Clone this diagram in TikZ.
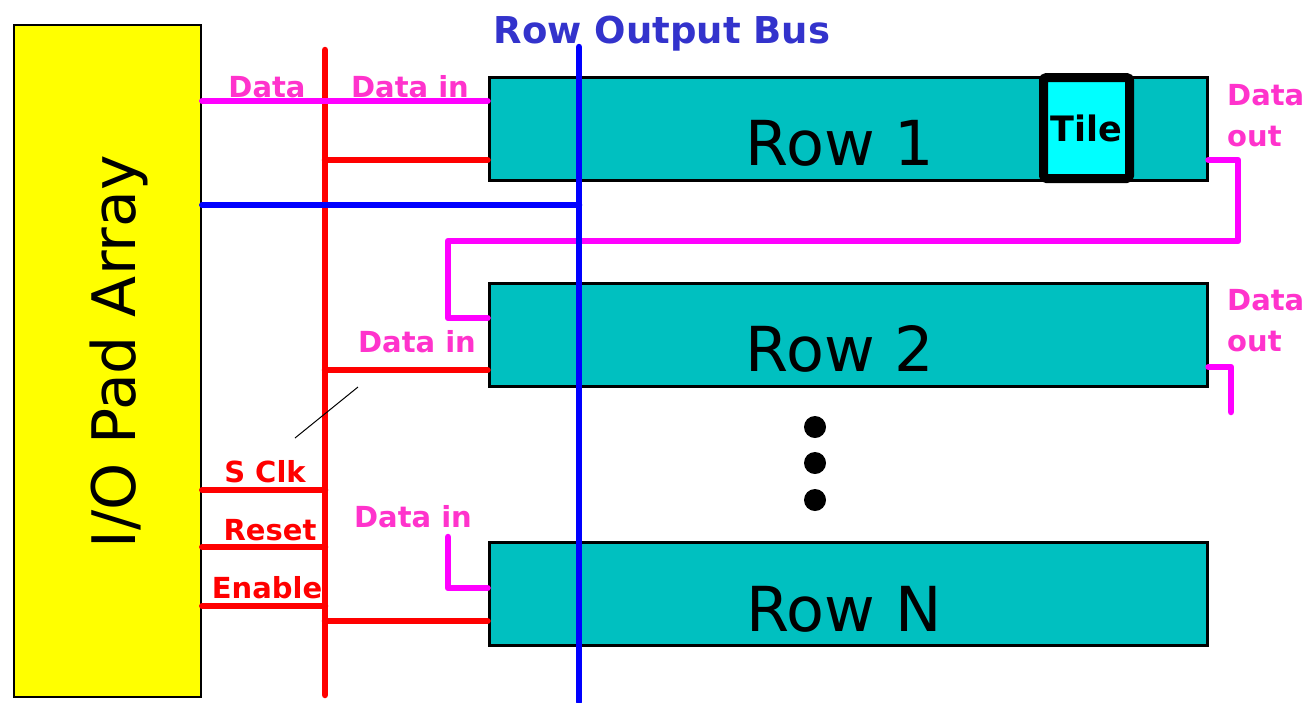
\documentclass[tikz,border=0pt]{standalone}
\usepackage{fontspec}
\setmainfont{DejaVu Sans}
\usetikzlibrary{positioning}
\definecolor{padyellow}{HTML}{FFFF00}
\definecolor{rowteal}{HTML}{00C0C0}
\definecolor{tilecyan}{HTML}{00FFFF}
\definecolor{sigred}{HTML}{FF0000}
\definecolor{datamag}{HTML}{FF00FF}
\definecolor{datatext}{HTML}{FF33CC}
\definecolor{busblue}{HTML}{0000FF}
\definecolor{bustext}{HTML}{3333CC}

\begin{document}
\begin{tikzpicture}[
    x=1pt, y=-1pt, % pixel grid, y pointing down
    rowbox/.style={draw=black, line width=3pt, fill=rowteal, inner sep=0pt,
        minimum width=718pt, minimum height=103pt},
    rowlabel/.style={anchor=base, font=\fontsize{62}{70}\selectfont},
    sig/.style={line width=6.5pt, line cap=round, line join=round},
    dataline/.style={sig, datamag},
    redline/.style={sig, sigred},
    blueline/.style={sig, busblue},
    datalabel/.style={anchor=base, text=datatext, font=\bfseries\fontsize{29}{41}\selectfont},
    ctrllabel/.style={anchor=base, text=sigred, font=\bfseries\fontsize{29}{41}\selectfont}
]
    \useasboundingbox (0,0) rectangle (1308,702);

    % --- 1. BUS POSITIONS ---
    \def\redX{325}
    \def\blueX{579}
    \def\loopL{448}

    % --- 2. PAD ARRAY AND ROWS ---
    \node[draw=black, line width=2.5pt, fill=padyellow, inner sep=0pt,
        minimum width=187pt, minimum height=672pt] (pad) at (107.5,361) {};
    \node[rotate=90, anchor=base, font=\fontsize{60}{70}\selectfont] (padlbl) at (135,352) {I/O Pad Array};

    \node[rowbox] (row1) at (848,128.5) {};
    \node[rowbox] (row2) at (848,335) {};
    \node[rowbox] (rowN) at (848,593.5) {};

    \node[rowlabel] (row1lbl) at (840,165) {Row 1};
    \node[rowlabel] (row2lbl) at (840,371) {Row 2};
    \node[rowlabel] (rowNlbl) at (844,631) {Row N};

    % Tile inside row 1
    \node[draw=black, line width=9pt, fill=tilecyan, rounded corners=3pt, inner sep=0pt,
        minimum width=86pt, minimum height=101pt,
        font=\bfseries\fontsize{35}{40}\selectfont] (tile) at (1086.5,128) {Tile};

    % Dots between row 2 and row N
    \foreach \yy in {427,463,500}
        \fill (815,\yy) circle (11pt);

    % --- 3. BUSES ---
    \coordinate (rtop) at (\redX,50);
    \coordinate (rbot) at (\redX,695);
    \coordinate (btop) at (\blueX,47);
    \coordinate (bbot) at (\blueX,702);

    \draw[redline] (rtop) -- (rbot);

    % red stubs to the rows
    \draw[redline] (rtop |- 0,160) -- (row1.west |- 0,160);
    \draw[redline] (rtop |- 0,370) -- (row2.west |- 0,370);
    \draw[redline] (rtop |- 0,621) -- (rowN.west |- 0,621);

    % control lines from the pads
    \draw[redline] (pad.east |- 0,490) -- (rtop |- 0,490);
    \draw[redline] (pad.east |- 0,547) -- (rtop |- 0,547);
    \draw[redline] (pad.east |- 0,606) -- (rtop |- 0,606);

    % data path
    \draw[dataline] (pad.east |- 0,101) -- (row1.west |- 0,101);
    \draw[dataline] (row1.east |- 0,160) -| (1238,241) -| (\loopL,318) -- (row2.west |- 0,318);
    \draw[dataline] (row2.east |- 0,367) -| (1231,412);
    \draw[dataline] (\loopL,537) |- (rowN.west |- 0,588);

    % output bus
    \draw[blueline] (pad.east |- 0,205) -- (btop |- 0,205);
    \draw[blueline] (btop) -- (bbot);

    % pointer line
    \draw[black, line width=1pt] (295,438) -- (358,387);

    % --- 4. LABELS ---
    \node[anchor=base, text=bustext, font=\bfseries\fontsize{37}{44}\selectfont] (buslbl) at (662,43) {Row Output Bus};

    \node[datalabel] (din0) at (267,97) {Data};
    \node[datalabel] (din1) at (410,97) {Data in};
    \node[datalabel] (din2) at (417,352) {Data in};
    \node[datalabel] (dinN) at (413,527) {Data in};

    \node[datalabel, anchor=north west, align=left, inner sep=0pt] (dout1) at (1227,84) {Data\\out};
    \node[datalabel, anchor=north west, align=left, inner sep=0pt] (dout2) at (1227,289) {Data\\out};

    \node[ctrllabel] (sclk) at (265,482) {S Clk};
    \node[ctrllabel] (reset) at (270,540) {Reset};
    \node[ctrllabel] (enable) at (267,598) {Enable};

\end{tikzpicture}
\end{document}
